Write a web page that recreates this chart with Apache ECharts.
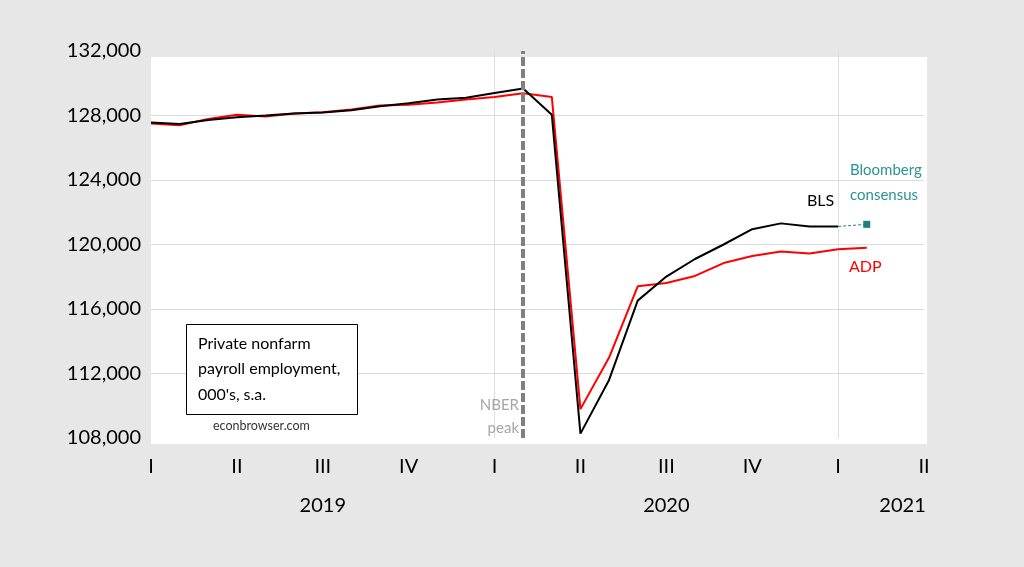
<!DOCTYPE html>
<html>
<head>
<meta charset="utf-8">
<script src="https://cdn.jsdelivr.net/npm/echarts@6/dist/echarts.min.js"></script>
<style>
html,body{margin:0;padding:0;background:#e7e7e7;}
#chart{width:1024px;height:567px;}
</style>
</head>
<body>
<div id="chart"></div>
<script>
// Months Jan 2019 .. Apr 2021 (index 0 .. 27)
const months = ['2019-01','2019-02','2019-03','2019-04','2019-05','2019-06','2019-07','2019-08','2019-09','2019-10','2019-11','2019-12',
  '2020-01','2020-02','2020-03','2020-04','2020-05','2020-06','2020-07','2020-08','2020-09','2020-10','2020-11','2020-12',
  '2021-01','2021-02','2021-03','2021-04'];
const quarterLabels = ['I','II','III','IV','I','II','III','IV','I','II'];
const yearLabels = ['2019','2020','2021'];
const yearLabelAt = [6, 18, 26.25];
const yTicks = [108000, 112000, 116000, 120000, 124000, 128000, 132000];

// Private nonfarm payroll employment, 000's, s.a.
const bls = [127570,127480,127720,127890,128000,128120,128190,128320,128570,128760,128990,129100,
  129400,129680,128050,108270,111600,116520,118010,119100,120000,120950,121310,121120,121120];
const adp = [127500,127400,127790,128050,127940,128120,128200,128370,128620,128670,128810,128990,
  129150,129380,129150,109790,112990,117410,117610,118050,118850,119290,119560,119440,119700,119800];
const consensusMonth = '2021-02';
const consensusValue = 121250;
const nberPeakMonth = '2020-02';

const FONT = 'Lato, "Open Sans", sans-serif';
const idx = m => months.indexOf(m);
const toPairs = arr => arr.map((v, i) => [i, v]);
const lastBls = bls.length - 1;

const chart = echarts.init(document.getElementById('chart'));
chart.setOption({
  backgroundColor: '#e7e7e7',
  animation: false,
  grid: {left: 151, right: 100, top: 51, height: 387},
  xAxis: [
    {
      type: 'value', min: 0, max: months.length - 1, interval: 3,
      axisLine: {show: false}, axisTick: {show: false}, splitLine: {show: false},
      axisLabel: {
        showMinLabel: true, showMaxLabel: true, margin: 19,
        fontFamily: FONT, fontSize: 20, color: '#000',
        formatter: v => quarterLabels[Math.round(v / 3)] || ''
      }
    },
    {
      type: 'value', min: 0, max: months.length - 1, position: 'bottom',
      axisLine: {show: false}, axisTick: {show: false}, splitLine: {show: false},
      axisLabel: {
        customValues: yearLabelAt, margin: 58,
        fontFamily: FONT, fontSize: 20, color: '#000',
        formatter: v => { const k = yearLabelAt.indexOf(v); return k >= 0 ? yearLabels[k] : ''; }
      }
    },
    {
      type: 'value', min: 0, max: months.length - 1, interval: 12, position: 'bottom',
      axisLine: {show: false}, axisTick: {show: false}, axisLabel: {show: false},
      splitLine: {show: true, showMinLine: false, showMaxLine: false, lineStyle: {color: '#dedede', width: 1}}
    }
  ],
  yAxis: {
    type: 'value', min: yTicks[0], max: yTicks[yTicks.length - 1], interval: 4000,
    axisLine: {show: false}, axisTick: {show: false},
    splitLine: {show: true, showMinLine: false, showMaxLine: false, lineStyle: {color: '#dcdcdc', width: 1}},
    axisLabel: {
      margin: 10, fontFamily: FONT, fontSize: 20, color: '#000', padding: [6, 0, 0, 0],
      formatter: v => v.toLocaleString('en-US')
    }
  },
  graphic: [
    {type: 'rect', z: -10, silent: true, shape: {x: 151, y: 57, width: 776, height: 387}, style: {fill: '#ffffff'}},
    {type: 'rect', z: 100, shape: {x: 186.5, y: 324.5, width: 171, height: 90}, style: {fill: '#ffffff', stroke: '#000', lineWidth: 1}},
    {type: 'text', z: 101, left: 198, top: 331, style: {text: 'Private nonfarm\npayroll employment,\n000\'s, s.a.', font: '16px ' + FONT, fill: '#000', lineHeight: 25.5}},
    {type: 'text', z: 101, left: 213, top: 419, style: {text: 'econbrowser.com', font: '12.5px ' + FONT, fill: '#333'}},
    {type: 'text', z: 101, right: 1024 - 519, top: 398, style: {text: 'NBER', font: '15px ' + FONT, fill: '#a6a6a6', align: 'right'}},
    {type: 'text', z: 101, right: 1024 - 519, top: 421, style: {text: 'peak', font: '15px ' + FONT, fill: '#a6a6a6', align: 'right'}},
    {type: 'text', z: 101, left: 807, top: 193, style: {text: 'BLS', font: '16px ' + FONT, fill: '#000'}},
    {type: 'text', z: 101, left: 849, top: 259, style: {text: 'ADP', font: '16px ' + FONT, fill: '#ff0000'}},
    {type: 'text', z: 101, left: 850, top: 158, style: {text: 'Bloomberg\nconsensus', font: '15px ' + FONT, fill: '#2a9494', lineHeight: 25}}
  ],
  series: [
    {
      name: 'ADP', type: 'line', xAxisIndex: 0, data: toPairs(adp), showSymbol: false,
      lineStyle: {color: '#ff0000', width: 2}, z: 3
    },
    {
      name: 'BLS', type: 'line', xAxisIndex: 0, data: toPairs(bls), showSymbol: false,
      lineStyle: {color: '#000000', width: 2}, z: 4,
      markLine: {
        silent: true, symbol: ['none', 'none'], label: {show: false},
        lineStyle: {color: '#808080', width: 4, type: [9, 3]},
        data: [{xAxis: idx(nberPeakMonth)}]
      }
    },
    {
      name: 'Bloomberg consensus', type: 'line', xAxisIndex: 0,
      data: [[lastBls, bls[lastBls]], [idx(consensusMonth), consensusValue]],
      symbol: (v, p) => p.dataIndex === 1 ? 'rect' : 'none', symbolSize: 7, showSymbol: true,
      itemStyle: {color: '#1f8080'},
      lineStyle: {color: '#1f8080', width: 1, type: [3, 2]}, z: 5
    }
  ]
});
</script>
</body>
</html>
